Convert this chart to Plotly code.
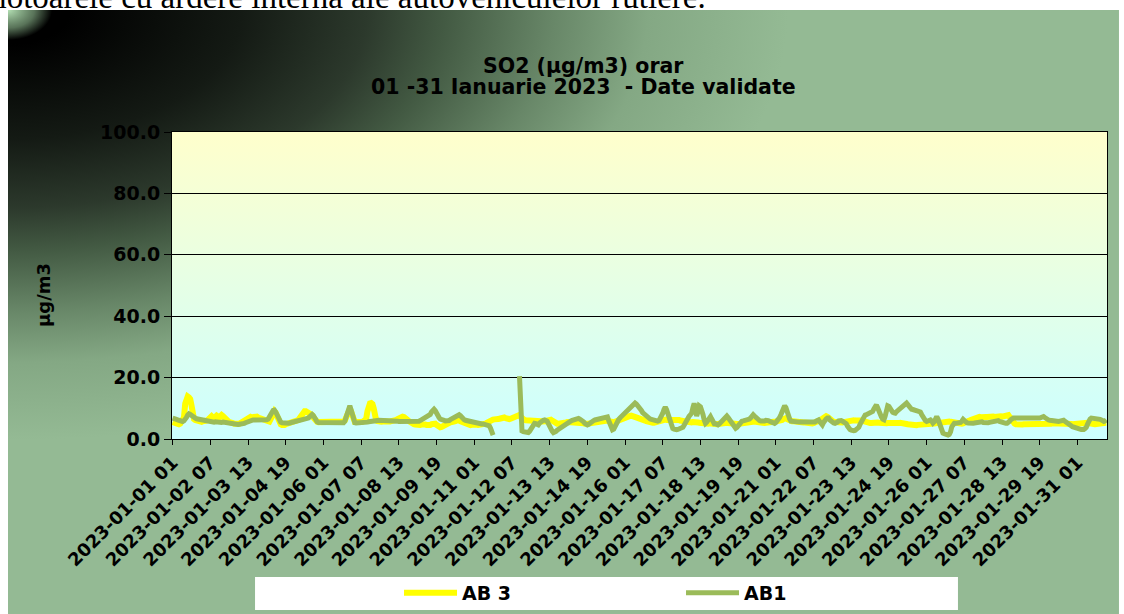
import base64
import plotly.graph_objects as go

# hourly categories: day 01..31, hour 01..24
hours = [f"2023-01-{d:02d} {h:02d}" for d in range(1, 32) for h in range(1, 25)]
tick_labels = hours[::30]

# AB 3 (ug/m3), one row per day
ab3 = [
    5.5, 5.3, 5.0, 4.8, 4.7, 4.8, 5.0, 5.5, 6.0, 7.0, 11.5, 13.5, 13.8, 13.5, 13.0, 11.0, 7.5, 6.5, 6.2, 6.0, 6.2, 6.0, 5.8, 5.6,
    5.8, 5.7, 5.8, 6.0, 6.2, 6.6, 7.0, 7.4, 7.0, 6.8, 7.2, 7.6, 7.3, 6.9, 7.4, 7.8, 7.5, 7.0, 6.8, 6.2, 5.8, 5.5, 5.4, 5.5,
    5.2, 5.0, 4.9, 4.8, 4.8, 5.0, 5.2, 5.5, 5.8, 6.0, 6.3, 6.6, 6.8, 7.0, 7.2, 7.0, 6.8, 7.2, 7.5, 7.3, 7.0, 6.8, 6.6, 6.5,
    6.2, 6.0, 5.8, 5.6, 5.5, 5.7, 6.5, 7.5, 8.5, 9.0, 8.5, 7.5, 6.2, 5.2, 4.8, 4.6, 4.5, 4.6, 4.8, 4.9, 5.0, 5.2, 5.4, 5.6,
    5.5, 5.5, 5.6, 5.8, 6.2, 6.8, 7.5, 8.2, 8.8, 9.0, 9.0, 8.8, 8.5, 8.3, 8.2, 7.8, 7.0, 6.2, 5.8, 5.6, 5.5, 5.5, 5.6, 5.6,
    5.6, 5.6, 5.7, 5.7, 5.6, 5.5, 5.6, 5.7, 5.8, 5.8, 5.7, 5.6, 5.6, 5.5, 5.5, 5.6, 5.7, 6.0, 7.0, 8.5, 9.5, 9.8, 9.0, 7.8,
    5.6, 5.5, 5.5, 5.4, 5.4, 5.5, 5.5, 5.6, 5.8, 6.0, 6.5, 9.0, 11.0, 11.6, 11.7, 11.4, 10.0, 7.0, 6.0, 5.8, 5.6, 5.5, 5.6, 5.7,
    6.0, 5.8, 5.7, 5.6, 5.6, 5.7, 5.8, 5.8, 5.9, 6.0, 6.2, 6.5, 6.8, 7.0, 7.2, 7.3, 7.2, 7.0, 6.6, 6.2, 5.8, 5.4, 5.0, 4.8,
    4.8, 4.7, 4.6, 4.5, 4.5, 4.6, 4.7, 4.8, 4.8, 4.7, 4.6, 4.5, 4.5, 4.6, 4.8, 5.0, 5.2, 5.0, 4.6, 4.2, 3.9, 3.8, 3.9, 4.2,
    4.5, 4.8, 5.0, 5.2, 5.3, 5.4, 5.5, 5.5, 5.6, 5.8, 6.0, 6.2, 6.0, 5.8, 5.6, 5.4, 5.2, 5.0, 4.8, 4.6, 4.5, 4.5, 4.6, 4.7,
    4.8, 4.8, 4.7, 4.6, 4.6, 4.6, 4.6, 4.7, 4.8, 5.0, 5.3, 5.6, 5.9, 6.1, 6.2, 6.3, 6.4, 6.3, 6.4, 6.5, 6.6, 6.8, 7.0, 7.2,
    7.0, 6.8, 6.6, 6.5, 6.5, 6.6, 6.8, 7.0, 7.2, 7.5, 7.8, 8.0, 7.8, 7.2, 6.6, 6.3, 6.2, 6.1, 6.1, 6.2, 6.2, 6.1, 6.0, 6.0,
    6.0, 6.1, 6.0, 5.9, 5.8, 5.8, 5.7, 5.6, 5.6, 5.8, 6.0, 6.3, 6.4, 6.3, 6.0, 5.6, 5.3, 5.1, 5.0, 5.0, 5.0, 5.0, 5.1, 5.2,
    5.3, 5.4, 5.5, 5.5, 5.4, 5.3, 5.2, 5.2, 5.3, 5.4, 5.5, 5.5, 5.4, 5.3, 5.2, 5.1, 5.0, 4.9, 4.9, 5.0, 5.1, 5.2, 5.3, 5.4,
    5.5, 5.6, 5.7, 5.8, 5.9, 6.0, 6.0, 6.1, 6.2, 6.2, 6.0, 5.8, 5.6, 5.5, 5.4, 5.5, 5.6, 5.8, 6.0, 6.2, 6.4, 6.5, 6.6, 6.7,
    6.8, 7.0, 7.2, 7.3, 7.5, 7.6, 7.5, 7.3, 7.0, 6.8, 6.6, 6.5, 6.4, 6.4, 6.3, 6.2, 6.0, 5.8, 5.6, 5.5, 5.4, 5.3, 5.3, 5.3,
    5.4, 5.5, 5.6, 5.8, 6.0, 6.2, 6.4, 6.4, 6.3, 6.2, 6.2, 6.3, 6.4, 6.5, 6.6, 6.6, 6.5, 6.4, 6.3, 6.2, 6.0, 5.9, 5.8, 5.7,
    5.6, 5.5, 5.4, 5.3, 5.3, 5.4, 5.5, 5.6, 5.6, 5.5, 5.4, 5.3, 5.2, 5.1, 5.0, 4.9, 4.9, 5.0, 5.0, 5.1, 5.0, 4.9, 4.8, 4.8,
    4.8, 4.8, 4.9, 5.0, 5.1, 5.2, 5.3, 5.4, 5.4, 5.3, 5.2, 5.1, 5.0, 4.9, 4.8, 4.7, 4.6, 4.6, 4.7, 4.8, 5.0, 5.1, 5.2, 5.3,
    5.4, 5.5, 5.6, 5.6, 5.7, 5.8, 5.8, 5.7, 5.6, 5.5, 5.4, 5.4, 5.3, 5.3, 5.2, 5.2, 5.3, 5.3, 5.4, 5.5, 5.5, 5.6, 5.6, 5.7,
    5.7, 5.8, 5.8, 5.9, 6.0, 6.2, 6.5, 6.8, 6.8, 6.5, 6.2, 6.0, 5.9, 5.8, 5.8, 5.7, 5.7, 5.6, 5.6, 5.6, 5.5, 5.5, 5.4, 5.4,
    5.3, 5.2, 5.1, 5.0, 5.0, 5.1, 5.2, 5.3, 5.4, 5.6, 5.8, 6.0, 6.3, 6.6, 7.0, 7.3, 7.4, 7.2, 6.8, 6.4, 6.0, 5.8, 5.6, 5.5,
    5.4, 5.3, 5.2, 5.2, 5.3, 5.4, 5.5, 5.6, 5.8, 6.0, 6.1, 6.2, 6.2, 6.2, 6.1, 6.0, 6.0, 6.1, 6.2, 6.3, 6.2, 6.0, 5.8, 5.6,
    5.5, 5.4, 5.3, 5.2, 5.2, 5.3, 5.4, 5.5, 5.5, 5.4, 5.3, 5.2, 5.1, 5.0, 5.0, 5.0, 5.1, 5.2, 5.2, 5.1, 5.0, 4.9, 4.9, 4.8,
    5.0, 5.1, 5.2, 5.3, 5.3, 5.2, 5.1, 5.0, 4.9, 4.8, 4.7, 4.6, 4.6, 4.6, 4.5, 4.5, 4.5, 4.6, 4.6, 4.7, 4.7, 4.8, 4.8, 4.8,
    4.7, 4.6, 4.6, 4.7, 4.8, 4.9, 5.0, 5.1, 5.2, 5.3, 5.4, 5.5, 5.6, 5.6, 5.6, 5.7, 5.8, 5.8, 5.7, 5.6, 5.5, 5.4, 5.3, 5.2,
    5.2, 5.1, 5.0, 5.0, 5.0, 5.1, 5.2, 5.4, 5.6, 5.8, 6.0, 6.2, 6.4, 6.6, 6.8, 7.0, 7.1, 7.2, 7.2, 7.1, 7.0, 7.0, 7.1, 7.2,
    7.2, 7.3, 7.3, 7.4, 7.4, 7.3, 7.2, 7.3, 7.4, 7.5, 7.5, 7.4, 7.3, 7.4, 7.6, 7.8, 8.0, 7.8, 7.2, 6.5, 5.8, 5.3, 5.0, 4.8,
    4.7, 4.7, 4.6, 4.6, 4.7, 4.8, 4.8, 4.7, 4.6, 4.6, 4.6, 4.7, 4.7, 4.8, 4.8, 4.7, 4.7, 4.6, 4.6, 4.6, 4.7, 4.8, 4.8, 4.8,
    4.8, 4.9, 5.0, 5.0, 5.1, 5.1, 5.2, 5.2, 5.2, 5.2, 5.3, 5.3, 5.3, 5.2, 5.2, 5.1, 5.0, 5.0, 4.9, 4.9, 4.8, 4.8, 4.8, 4.9,
    4.9, 5.0, 5.0, 5.1, 5.1, 5.2, 5.2, 5.3, 5.3, 5.3, 5.2, 5.1, 5.0, 4.9, 4.8, 4.8, 4.9, 5.0, 5.0, 5.1, 5.2, 5.2, 5.3, 5.3,
]

# AB1 (ug/m3), one row per day, None = missing hours
ab1 = [
    6.8, 6.8, 6.6, 6.4, 6.2, 6.0, 5.8, 5.7, 5.7, 5.9, 6.3, 7.0, 7.8, 8.2, 8.0, 7.6, 7.3, 7.0, 6.8, 6.6, 6.5, 6.4, 6.2, 6.1,
    6.0, 5.9, 5.8, 5.7, 5.6, 5.6, 5.5, 5.5, 5.4, 5.5, 5.6, 5.5, 5.4, 5.4, 5.3, 5.4, 5.5, 5.4, 5.3, 5.2, 5.2, 5.1, 5.1, 5.0,
    5.0, 4.9, 4.8, 4.8, 4.7, 4.8, 4.8, 4.9, 5.0, 5.1, 5.3, 5.5, 5.7, 5.9, 6.0, 6.1, 6.2, 6.2, 6.2, 6.1, 6.2, 6.1, 6.0, 6.1,
    6.1, 6.2, 6.2, 6.3, 6.5, 7.0, 7.8, 8.6, 9.3, 9.4, 8.8, 7.8, 6.8, 6.0, 5.5, 5.3, 5.2, 5.1, 5.1, 5.0, 5.1, 5.2, 5.3, 5.5,
    5.5, 5.5, 5.6, 5.7, 5.8, 5.9, 6.0, 6.0, 6.1, 6.2, 6.3, 6.5, 6.8, 7.2, 7.7, 8.0, 7.6, 6.8, 6.0, 5.6, 5.4, 5.4, 5.4, 5.4,
    5.4, 5.4, 5.4, 5.3, 5.3, 5.4, 5.4, 5.3, 5.3, 5.2, 5.2, 5.2, 5.3, 5.2, 5.2, 5.1, 5.3, 5.8, 7.0, 9.0, 10.6, 10.8, 9.5, 7.5,
    5.6, 5.3, 5.2, 5.2, 5.2, 5.1, 5.2, 5.3, 5.4, 5.4, 5.5, 5.5, 5.6, 5.6, 5.7, 5.7, 5.8, 5.8, 5.9, 6.0, 6.1, 6.1, 6.2, 6.2,
    6.2, 6.2, 6.2, 6.2, 6.2, 6.1, 6.1, 6.0, 6.0, 5.9, 5.8, 5.8, 5.7, 5.7, 5.7, 5.7, 5.7, 5.6, 5.6, 5.6, 5.5, 5.5, 5.4, 5.4,
    5.4, 5.4, 5.5, 5.6, 5.8, 6.0, 6.2, 6.4, 6.6, 6.8, 7.0, 7.2, 7.5, 8.0, 8.8, 9.5, 9.7, 9.2, 8.2, 7.5, 7.0, 6.5, 6.2, 6.0,
    6.1, 5.9, 5.8, 5.8, 6.0, 6.3, 6.6, 6.9, 7.1, 7.3, 7.5, 7.8, 7.9, 7.6, 7.0, 6.5, 6.3, 6.1, 6.0, 6.0, 5.8, 5.6, 5.4, 5.2,
    5.2, 5.1, 5.0, 5.0, 5.1, 5.0, 4.9, 4.9, 4.8, 4.9, 4.8, 4.8, 4.3, 3.5, 2.3, 1.3, None, None, None, None, None, None, None, None,
    None, None, None, None, None, None, None, None, None, None, None, None, 20.5, 3.2, 2.6, 2.4, 2.3, 2.2, 2.2, 2.1, 2.5, 3.3, 4.3, 5.1,
    5.1, 5.0, 4.8, 4.6, 5.2, 5.7, 5.9, 6.1, 6.2, 6.1, 5.8, 5.0, 4.0, 3.2, 2.6, 2.1, 2.2, 2.5, 2.9, 3.2, 3.6, 4.0, 4.3, 4.6,
    4.7, 5.0, 5.3, 5.5, 5.7, 5.9, 6.1, 6.3, 6.5, 6.7, 6.8, 6.7, 6.5, 6.3, 6.0, 5.6, 5.1, 4.7, 4.6, 4.8, 5.2, 5.6, 5.8, 6.0,
    6.2, 6.3, 6.4, 6.5, 6.6, 6.8, 6.9, 7.0, 7.1, 7.3, 7.2, 6.0, 4.6, 3.6, 3.0, 3.2, 4.2, 5.4, 6.0, 6.4, 6.9, 7.3, 7.6, 8.0,
    8.4, 8.8, 9.3, 9.8, 10.2, 10.6, 11.0, 11.4, 11.7, 11.4, 11.0, 10.5, 10.0, 9.3, 8.6, 8.2, 7.8, 7.3, 6.9, 6.7, 6.5, 6.4, 6.2, 6.0,
    6.1, 6.0, 5.8, 6.0, 6.6, 7.3, 8.4, 9.6, 10.4, 9.6, 8.2, 6.8, 5.2, 3.9, 3.4, 3.2, 3.0, 3.0, 3.1, 3.2, 3.2, 3.3, 3.8, 4.5,
    5.4, 6.2, 6.8, 7.4, 7.9, 8.4, 10.2, 11.6, 10.0, 7.5, 8.8, 10.8, 10.5, 9.6, 8.0, 6.2, 5.1, 5.5, 6.3, 7.0, 7.3, 6.5, 5.3, 5.0,
    5.0, 4.7, 4.6, 4.9, 5.4, 5.9, 6.3, 6.8, 7.3, 7.5, 7.0, 6.3, 5.5, 4.8, 4.2, 3.7, 3.5, 3.8, 4.5, 5.2, 5.7, 5.8, 5.9, 6.0,
    5.8, 6.0, 6.2, 6.5, 6.9, 7.4, 7.9, 7.5, 7.0, 6.6, 6.2, 6.0, 5.9, 5.8, 5.7, 5.9, 6.1, 6.2, 6.0, 5.8, 5.6, 5.4, 5.2, 5.1,
    5.4, 5.8, 6.2, 7.0, 7.9, 8.8, 9.8, 10.8, 10.2, 8.6, 7.4, 6.5, 5.8, 5.7, 5.6, 5.6, 5.6, 5.6, 5.5, 5.5, 5.5, 5.5, 5.4, 5.4,
    5.4, 5.3, 5.2, 5.2, 5.1, 5.1, 5.3, 5.5, 5.8, 6.1, 6.2, 5.6, 4.8, 4.6, 5.4, 6.2, 6.5, 6.8, 6.8, 6.2, 5.7, 5.4, 5.2, 5.1,
    5.2, 5.5, 5.9, 6.2, 6.0, 5.8, 5.6, 5.5, 5.0, 4.2, 3.5, 3.1, 2.9, 2.7, 2.7, 2.8, 3.0, 3.2, 3.8, 4.8, 5.6, 6.4, 7.2, 7.8,
    7.9, 8.1, 8.2, 8.3, 8.4, 9.0, 9.8, 10.6, 11.1, 10.2, 8.8, 7.9, 7.2, 6.5, 6.3, 7.5, 9.5, 10.8, 10.6, 9.8, 9.0, 8.7, 8.5, 8.4,
    8.9, 9.3, 9.6, 9.9, 10.4, 10.8, 11.2, 11.5, 11.7, 11.2, 10.5, 10.0, 9.7, 9.6, 9.5, 9.5, 9.5, 9.4, 9.2, 8.8, 8.0, 7.2, 6.5, 6.0,
    5.7, 5.9, 6.1, 6.2, 5.8, 5.2, 5.6, 6.5, 7.3, 6.5, 5.4, 4.4, 2.4, 1.9, 1.7, 1.5, 1.4, 1.3, 1.5, 2.3, 4.0, 5.1, 5.1, 5.1,
    5.1, 5.2, 5.3, 5.4, 5.8, 6.4, 6.0, 5.5, 5.3, 5.2, 5.1, 5.1, 5.1, 5.1, 5.2, 5.3, 5.4, 5.5, 5.6, 5.7, 5.6, 5.4, 5.3, 5.2,
    5.2, 5.3, 5.4, 5.5, 5.6, 5.8, 6.0, 6.2, 6.2, 6.0, 5.7, 5.5, 5.4, 5.3, 5.2, 5.1, 5.1, 5.3, 5.8, 6.3, 6.7, 6.8, 6.8, 6.8,
    6.8, 6.8, 6.8, 6.7, 6.7, 6.6, 6.6, 6.6, 6.5, 6.5, 6.5, 6.5, 6.5, 6.5, 6.5, 6.5, 6.6, 6.7, 6.8, 7.0, 7.2, 7.3, 7.0, 6.6,
    6.4, 6.2, 6.1, 6.0, 6.0, 5.9, 5.8, 5.7, 5.7, 5.7, 5.8, 6.0, 6.2, 6.1, 5.8, 5.4, 5.1, 4.9, 4.6, 4.3, 4.0, 3.8, 3.6, 3.5,
    3.4, 3.3, 3.2, 3.1, 3.0, 3.1, 3.4, 3.8, 4.8, 6.0, 6.5, 6.8, 6.8, 6.7, 6.7, 6.6, 6.5, 6.4, 6.4, 6.2, 5.9, 5.7, 5.9, 6.2,
]


def svg_uri(svg):
    return "data:image/svg+xml;base64," + base64.b64encode(svg.encode("utf-8")).decode()


# chart frame: dark corner fading to light green
frame_svg = """<svg xmlns="http://www.w3.org/2000/svg" width="1111" height="604" viewBox="0 0 1111 604" preserveAspectRatio="none">
<defs>
<radialGradient id="g" gradientUnits="userSpaceOnUse" cx="0" cy="0" r="1" gradientTransform="scale(780 430)">
<stop offset="0.08" stop-color="#000000"/>
<stop offset="0.3" stop-color="#141a14"/>
<stop offset="0.46" stop-color="#2c392c"/>
<stop offset="0.56" stop-color="#435a43"/>
<stop offset="0.7" stop-color="#688768"/>
<stop offset="0.82" stop-color="#84a884"/>
<stop offset="1" stop-color="#94ba94"/>
</radialGradient>
<radialGradient id="c" gradientUnits="userSpaceOnUse" cx="0" cy="0" r="1" gradientTransform="scale(44 30)">
<stop offset="0" stop-color="#b4e0b4"/>
<stop offset="0.6" stop-color="#94c094" stop-opacity="0.6"/>
<stop offset="1" stop-color="#94c094" stop-opacity="0"/>
</radialGradient>
</defs>
<rect width="1111" height="604" fill="url(#g)"/>
<rect width="44" height="30" fill="url(#c)"/>
</svg>"""

plot_svg = """<svg xmlns="http://www.w3.org/2000/svg" width="935" height="307" viewBox="0 0 935 307" preserveAspectRatio="none">
<defs><linearGradient id="p" x1="0" y1="0" x2="0" y2="1">
<stop offset="0" stop-color="#ffffcc"/><stop offset="1" stop-color="#ccffff"/>
</linearGradient></defs>
<rect width="935" height="307" fill="url(#p)"/>
</svg>"""

bold = dict(family="DejaVu Sans", color="black", weight="bold")

fig = go.Figure()
fig.add_trace(go.Scatter(x=hours, y=ab3, mode="lines", name="AB 3",
                         line=dict(color="#ffff00", width=6)))
fig.add_trace(go.Scatter(x=hours, y=ab1, mode="lines", name="AB1",
                         line=dict(color="#9bbb59", width=5)))

fig.update_layout(
    width=1124, height=614,
    margin=dict(l=172, r=17, t=132, b=175, autoexpand=False),
    paper_bgcolor="white",
    plot_bgcolor="rgba(0,0,0,0)",
    images=[
        dict(source=svg_uri(frame_svg), xref="paper", yref="paper",
             x=-0.1754, y=1.3974, sizex=1.1882, sizey=1.9674,
             xanchor="left", yanchor="top", sizing="stretch", layer="below"),
        dict(source=svg_uri(plot_svg), xref="paper", yref="paper",
             x=0, y=1, sizex=1, sizey=1,
             xanchor="left", yanchor="top", sizing="stretch", layer="below"),
    ],
    shapes=[
        dict(type="rect", xref="paper", yref="paper", x0=0.0888, x1=0.8406,
             y0=-0.557, y1=-0.4495, fillcolor="white", line=dict(width=0), layer="below"),
    ],
    annotations=[
        dict(text="SO2 (µg/m3) orar", xref="paper", yref="paper", x=0.4406, y=1.2150,
             xanchor="center", yanchor="middle", showarrow=False, font=dict(size=20.5, **bold)),
        dict(text="01 -31 Ianuarie 2023  - Date validate", xref="paper", yref="paper",
             x=0.4406, y=1.1450, xanchor="center", yanchor="middle", showarrow=False,
             font=dict(size=20.5, **bold)),
        dict(text="µg/m3", xref="paper", yref="paper", x=-0.1380, y=0.469, textangle=-90,
             xanchor="center", yanchor="middle", showarrow=False, font=dict(size=18, **bold)),
        dict(text="motoarele cu ardere internă ale autovehiculelor rutiere.", xref="paper", yref="paper",
             x=-0.2064, y=1.374, xanchor="left", yanchor="bottom", showarrow=False,
             font=dict(family="Liberation Serif", size=33, color="black")),
    ],
    legend=dict(orientation="h", x=0.2428, y=-0.5016, xanchor="left", yanchor="middle",
                bgcolor="rgba(0,0,0,0)", itemwidth=53, entrywidth=214, entrywidthmode="pixels",
                font=dict(size=19, **bold)),
    xaxis=dict(type="category", range=[-0.5, 743.5], tickmode="array",
               tickvals=tick_labels, ticktext=tick_labels, tickangle=-45,
               ticks="outside", ticklen=5, tickcolor="black", showgrid=False,
               showline=True, linecolor="black", linewidth=1, mirror=True,
               tickfont=dict(size=18, **bold)),
    yaxis=dict(range=[0, 100], dtick=20, tickformat=".1f", showgrid=True,
               gridcolor="black", gridwidth=1, zeroline=False,
               showline=True, linecolor="black", linewidth=1, mirror=True,
               ticks="outside", ticklen=7, tickcolor="black", ticklabelstandoff=0,
               tickfont=dict(size=19, **bold)),
)

fig.write_html("out.html", config={"displayModeBar": False},
               post_script="document.body.style.margin='0';")
